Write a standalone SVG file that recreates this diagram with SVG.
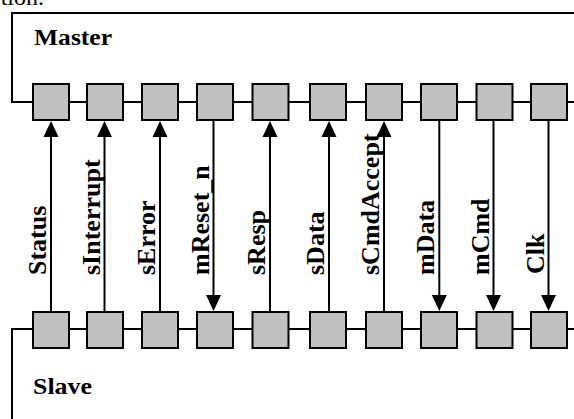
<svg xmlns="http://www.w3.org/2000/svg" xmlns:xlink="http://www.w3.org/1999/xlink" width="574" height="419" viewBox="0 0 574 419">
  <defs>
    <style>
      .wire { fill: none; stroke: #000; stroke-width: 2; }
      .port { fill: #c0c0c0; stroke: #000; stroke-width: 2; }
      .sig { stroke: #000; stroke-width: 2; fill: none; }
      .tip { fill: #000; stroke: none; }
      .title { font-family: "Liberation Serif", "Times New Roman", serif; font-weight: bold; font-size: 23.5px; fill: #000; }
      .lbl { font-family: "Liberation Serif", "Times New Roman", serif; font-weight: bold; font-size: 26px; fill: #000; }
      .cap { font-family: "Liberation Serif", "Times New Roman", serif; font-size: 24px; fill: #000; }
    </style>
    <!-- solid triangular arrowheads, tip at the origin -->
    <path id="up" class="tip" d="M0,0 L-7.5,16 L7.5,16 Z"/>
    <path id="down" class="tip" d="M0,0 L-7.5,-16 L7.5,-16 Z"/>
  </defs>
  <rect width="574" height="419" fill="#fff"/>

  <!-- caption tail running off the top edge -->
  <text class="cap" x="44" y="5" text-anchor="end">tion.</text>

  <!-- Master block -->
  <g id="master">
    <path class="wire" d="M575,13 H12 V102 H575"/>
    <text class="title" x="34" y="45" textLength="78" lengthAdjust="spacingAndGlyphs">Master</text>
    <rect class="port" x="33" y="84" width="36" height="36"/>
    <rect class="port" x="87" y="84" width="36" height="36"/>
    <rect class="port" x="142" y="84" width="36" height="36"/>
    <rect class="port" x="197" y="84" width="36" height="36"/>
    <rect class="port" x="252.5" y="84" width="36" height="36"/>
    <rect class="port" x="310" y="84" width="36" height="36"/>
    <rect class="port" x="366" y="84" width="36" height="36"/>
    <rect class="port" x="421" y="84" width="36" height="36"/>
    <rect class="port" x="476.5" y="84" width="36" height="36"/>
    <rect class="port" x="531" y="84" width="36" height="36"/>
  </g>

  <!-- Slave block -->
  <g id="slave">
    <path class="wire" d="M575,329 H12 V420"/>
    <text class="title" x="33" y="394" textLength="59" lengthAdjust="spacingAndGlyphs">Slave</text>
    <rect class="port" x="33" y="312" width="36" height="36"/>
    <rect class="port" x="87" y="312" width="36" height="36"/>
    <rect class="port" x="142" y="312" width="36" height="36"/>
    <rect class="port" x="197" y="312" width="36" height="36"/>
    <rect class="port" x="252.5" y="312" width="36" height="36"/>
    <rect class="port" x="310" y="312" width="36" height="36"/>
    <rect class="port" x="366" y="312" width="36" height="36"/>
    <rect class="port" x="421" y="312" width="36" height="36"/>
    <rect class="port" x="476.5" y="312" width="36" height="36"/>
    <rect class="port" x="531" y="312" width="36" height="36"/>
  </g>

  <!-- Signals between the two blocks -->
  <g id="signals">
    <line class="sig" x1="51" y1="312" x2="51" y2="134"/>
    <use xlink:href="#up" x="51" y="121"/>
    <line class="sig" x1="104.5" y1="312" x2="104.5" y2="134"/>
    <use xlink:href="#up" x="104.5" y="121"/>
    <line class="sig" x1="160" y1="312" x2="160" y2="134"/>
    <use xlink:href="#up" x="160" y="121"/>
    <line class="sig" x1="213.5" y1="120" x2="213.5" y2="298"/>
    <use xlink:href="#down" x="213.5" y="311"/>
    <line class="sig" x1="270" y1="312" x2="270" y2="134"/>
    <use xlink:href="#up" x="270" y="121"/>
    <line class="sig" x1="329" y1="312" x2="329" y2="134"/>
    <use xlink:href="#up" x="329" y="121"/>
    <line class="sig" x1="384" y1="312" x2="384" y2="134"/>
    <use xlink:href="#up" x="384" y="121"/>
    <line class="sig" x1="439.3" y1="120" x2="439.3" y2="298"/>
    <use xlink:href="#down" x="439.3" y="311"/>
    <line class="sig" x1="493.5" y1="120" x2="493.5" y2="298"/>
    <use xlink:href="#down" x="493.5" y="311"/>
    <line class="sig" x1="548.5" y1="120" x2="548.5" y2="298"/>
    <use xlink:href="#down" x="548.5" y="311"/>
  </g>

  <!-- Signal names -->
  <g id="labels">
    <text class="lbl" transform="translate(46,275) rotate(-90)">Status</text>
    <text class="lbl" transform="translate(99.5,275) rotate(-90)">sInterrupt</text>
    <text class="lbl" transform="translate(155,275) rotate(-90)">sError</text>
    <text class="lbl" transform="translate(208.5,275) rotate(-90)">mReset_n</text>
    <text class="lbl" transform="translate(265,275) rotate(-90)">sResp</text>
    <text class="lbl" transform="translate(324,275) rotate(-90)">sData</text>
    <text class="lbl" transform="translate(379,275) rotate(-90)">sCmdAccept</text>
    <text class="lbl" transform="translate(434.3,275) rotate(-90)">mData</text>
    <text class="lbl" transform="translate(488.5,275) rotate(-90)">mCmd</text>
    <text class="lbl" transform="translate(543.5,274) rotate(-90)">Clk</text>
  </g>
</svg>
